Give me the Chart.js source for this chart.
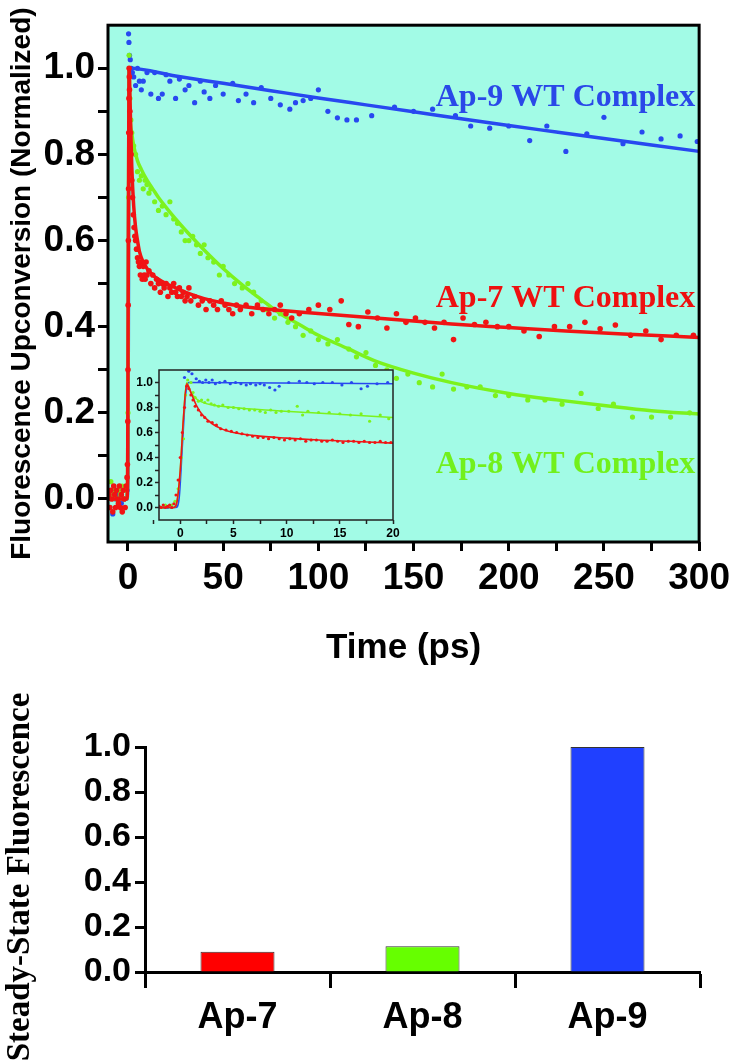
<!DOCTYPE html>
<html lang="en">
<head>
<meta charset="UTF-8">
<title>Ap WT complexes - fluorescence</title>
<style>
  body { margin: 0; background: #fff; }
  #wrap { position: relative; width: 736px; height: 1063px; overflow: hidden; }
  #main { position: absolute; left: 0; top: 0; }
  #inset { position: absolute; left: 110px; top: 360px; }
  #bars { position: absolute; left: 0; top: 680px; }
</style>
<script src="https://cdn.jsdelivr.net/npm/chart.js@4.4.1/dist/chart.umd.min.js"></script>
</head>
<body>
<div id="wrap">
  <canvas id="main" width="736" height="680"></canvas>
  <canvas id="inset" width="300" height="190"></canvas>
  <canvas id="bars" width="736" height="383"></canvas>
</div>
<script>
// ---- main panel: measured points (time in ps, normalized signal) ----
const ap9T = [-9,-8,-6.5,-5,-3.5,-2,-0.5,0.3,0.5,0.8,1.2,1.7,2.3,3,4,5,6,7,8,10,12,14,16,18,20,22,25,27,30,32,35,38,40,43,46,50,55,58,62,66,70,75,80,85,88,92,96,100,105,110,115,120,128,140,150,160,172,180,190,200,211,220,230,241,250,260,270,280,290,299];
const ap9V = [0.01,-0.035,0.0,0.01,-0.01,0.0,0.02,1.08,1.06,1.03,1.02,1.0,0.99,0.98,0.96,1.0,0.97,0.95,0.97,0.99,0.94,0.99,0.93,0.94,0.985,0.97,0.93,0.975,0.95,0.96,0.92,0.97,0.945,0.93,0.96,0.94,0.965,0.925,0.94,0.92,0.955,0.93,0.915,0.905,0.92,0.925,0.93,0.95,0.90,0.885,0.88,0.88,0.89,0.91,0.9,0.905,0.89,0.866,0.861,0.866,0.832,0.866,0.807,0.848,0.886,0.825,0.852,0.836,0.843,0.83];

const ap7T = [-10,-9.5,-9,-8.5,-8,-7.5,-7,-6.5,-6,-5.5,-5,-4.5,-4,-3.5,-3,-2.5,-2,-1.5,-1,-0.5,
  -0.3,-0.1,0,0.1,0.2,0.3,0.4,0.5,0.6,0.7,0.8,1,1.3,1.6,
  2,2.4,2.8,3.2,3.6,4,4.5,5,5.5,6,6.5,7,7.5,8,8.5,9,9.5,10,11,12,13,14,15,16,17,18,19,20,21,22,23,24,25,26,27,28,29,30,31,32,33,35,37,39,41,43,45,47,49,51,53,55,57,59,62,65,68,71,74,77,80,83,86,90,95,100,106,112,116,121,126,131,136,141,146,151,156,161,166,171,176,182,188,194,200,208,216,224,232,240,248,256,264,272,280,288,297];
const ap7V = [0.01,-0.02,0.02,0.0,-0.03,0.03,0.01,-0.02,0.02,0.0,-0.01,0.03,-0.02,0.01,-0.03,0.02,0.0,-0.02,0.03,0.05,
  0.08,0.18,0.3,0.45,0.6,0.72,0.85,0.93,1.0,0.98,0.95,0.9,0.85,0.8,
  0.74,0.7,0.66,0.63,0.61,0.6,0.58,0.56,0.55,0.54,0.52,0.55,0.51,0.54,0.52,0.51,0.55,0.52,
  0.53,0.5,0.52,0.49,0.51,0.5,0.48,0.5,0.49,0.5,0.47,0.49,0.48,0.5,0.48,0.47,0.49,0.47,0.48,0.46,0.47,0.49,0.46,
  0.47,0.45,0.46,0.44,0.46,0.45,0.44,0.46,0.45,0.44,0.43,0.45,0.44,
  0.45,0.43,0.45,0.44,0.43,0.44,0.45,0.43,0.42,0.43,
  0.44,0.45,0.44,0.46,0.405,0.40,0.434,0.42,0.397,0.43,0.41,
  0.42,0.41,0.397,0.41,0.37,0.42,0.405,0.41,0.40,0.40,
  0.39,0.377,0.40,0.40,0.41,0.395,0.404,0.38,0.39,0.37,0.38,0.38];

const ap8T = [-9,-8,-7,-6,-5,-4,-3,-2,-1,0,0.3,0.6,1,1.5,2,3,4,5,6,7,8,9,10,11,12,14,16,18,20,22,24,26,28,30,32,34,36,38,40,42,45,48,50,53,56,60,63,66,70,73,77,80,84,88,92,96,100,105,110,116,120,125,130,136,141,147,153,160,165,171,178,185,193,200,210,219,228,238,247,255,265,275,285,295];
const ap8V = [0.04,0.01,0.02,0.0,0.02,0.01,0.03,0.0,0.02,0.2,0.7,1.03,0.93,0.88,0.85,
  0.82,0.8,0.76,0.74,0.75,0.72,0.74,0.73,0.71,0.72,
  0.69,0.67,0.68,0.66,0.69,0.65,0.64,0.62,0.6,0.6,
  0.61,0.59,0.57,0.59,0.56,0.55,0.52,0.54,0.52,0.5,
  0.49,0.5,0.48,0.46,0.44,0.42,0.43,0.41,0.4,0.38,
  0.39,0.37,0.36,0.37,0.348,0.33,0.34,0.31,0.3,0.28,
  0.29,0.27,0.26,0.29,0.255,0.26,0.26,0.24,0.24,0.23,
  0.23,0.22,0.245,0.21,0.22,0.19,0.19,0.19,0.2];

// fitted curves
const ap9FitT = [-10,-0.5,0,0.3,0.6,25,50,75,100,125,150,175,200,225,250,275,300];
const ap9FitV = [0,0,0.1,0.6,1.0,0.982,0.965,0.948,0.931,0.915,0.899,0.883,0.867,0.852,0.837,0.822,0.807];
const ap7FitT = [-10,-0.6,-0.2,0,0.2,0.4,0.6,1,1.5,2,3,4,5,6,8,10,13,16,20,25,30,40,50,60,75,90,110,130,150,170,200,230,260,300];
const ap7FitV = [0,0,0.05,0.3,0.6,0.86,1.0,0.94,0.85,0.77,0.68,0.63,0.6,0.575,0.55,0.535,0.52,0.51,0.5,0.49,0.48,0.465,0.455,0.447,0.44,0.434,0.427,0.42,0.413,0.406,0.398,0.39,0.383,0.375];
const ap8FitT = [-10,-0.6,-0.2,0,0.3,0.6,1,2,3,5,7,10,13,16,20,25,30,40,50,60,70,80,90,100,115,130,150,170,200,225,250,275,300];
const ap8FitV = [0,0,0.05,0.25,0.7,1.0,0.9,0.85,0.82,0.785,0.765,0.74,0.72,0.7,0.677,0.65,0.625,0.578,0.535,0.497,0.463,0.43,0.405,0.38,0.35,0.32,0.292,0.27,0.245,0.23,0.217,0.205,0.197];

const timeTicks = [0,25,50,75,100,125,150,175,200,225,250,275,300];
const timeLabels = [0,50,100,150,200,250,300];
const signalTicks = [0,0.1,0.2,0.3,0.4,0.5,0.6,0.7,0.8,0.9,1.0];
const signalLabels = [0,0.2,0.4,0.6,0.8,1.0];

// ---- inset: first 20 ps ----
const inBlueT = [-2,-1.6,-1.2,-0.8,-0.4,0.4,0.8,1.1,1.5,1.8,2.1,2.4,2.7,3.0,3.3,3.7,4.2,4.7,5.2,5.7,6.2,6.6,7.1,7.5,7.9,8.4,8.9,9.3,10.2,11.2,11.9,12.6,13.4,14.3,15.2,16.1,17.0,17.6,18.5,19.5];
const inBlueV = [0,0,0,0,0.01,1.04,1.09,1.07,1.03,1.01,1.0,1.02,1.0,1.02,0.99,1.0,1.01,0.99,1.0,0.99,0.98,0.99,0.98,0.99,0.98,0.96,0.94,0.97,1.0,1.01,1.0,0.99,1.0,1.0,0.98,1.0,0.95,0.97,0.99,1.0];
const inGreenT = [-2,-1.7,-1.4,-1.1,-0.8,-0.5,-0.2,0.1,0.3,0.5,0.7,1.0,1.2,1.4,1.7,2.0,2.3,2.6,2.9,3.2,3.6,4.0,4.5,5.0,5.5,6.0,6.5,7.0,7.5,8.0,8.5,9.0,9.5,10.2,11.0,11.5,12.0,13.0,14.0,15.0,16.0,17.0,17.8,18.8,19.6];
const inGreenV = [0.01,0.0,0.02,0.01,0.02,0.05,0.15,0.4,0.55,0.9,1.02,1.0,0.92,0.88,0.85,0.86,0.84,0.86,0.83,0.82,0.81,0.82,0.8,0.8,0.79,0.79,0.78,0.78,0.77,0.76,0.78,0.76,0.77,0.77,0.81,0.74,0.77,0.76,0.76,0.75,0.74,0.75,0.69,0.74,0.71];
const inRedT = [-2,-1.8,-1.6,-1.4,-1.2,-1.0,-0.8,-0.6,-0.4,-0.2,0,0.2,0.4,0.6,0.8,1.0,1.2,1.4,1.7,2.0,2.3,2.6,3.0,3.4,3.8,4.3,4.8,5.3,5.8,6.3,6.8,7.3,7.8,8.3,8.8,9.3,9.8,10.3,10.8,11.3,11.8,12.3,12.8,13.3,13.8,14.3,14.8,15.3,15.8,16.3,16.8,17.3,17.8,18.3,18.8,19.3,19.8];
const inRedV = [0.01,0.0,0.02,0.0,0.01,0.02,0.0,0.03,0.1,0.22,0.4,0.6,0.8,0.97,0.95,0.9,0.86,0.81,0.78,0.74,0.72,0.69,0.68,0.66,0.63,0.62,0.61,0.6,0.59,0.58,0.57,0.56,0.56,0.55,0.56,0.55,0.54,0.55,0.54,0.55,0.53,0.54,0.54,0.53,0.53,0.54,0.53,0.52,0.53,0.53,0.52,0.53,0.52,0.52,0.53,0.52,0.52];
const inRedFitT = [-2,-0.6,-0.3,0,0.3,0.6,1,1.5,2,3,4,5,7,10,13,16,20];
const inRedFitV = [0,0,0.05,0.3,0.72,0.99,0.92,0.82,0.75,0.67,0.625,0.6,0.575,0.555,0.54,0.53,0.515];
const inGreenFitT = [-2,-0.6,-0.3,0,0.3,0.6,1,1.5,2,3,5,8,12,16,20];
const inGreenFitV = [0,0,0.05,0.3,0.72,1.0,0.92,0.87,0.845,0.82,0.8,0.78,0.76,0.74,0.72];
const inBlueFitT = [-2,-0.4,-0.1,0.2,0.5,0.8,20];
const inBlueFitV = [0,0,0.08,0.5,0.9,1.0,0.99];
const insetTimeTicks = [-2.5,0,2.5,5,7.5,10,12.5,15,17.5,20];
const insetTimeLabels = [0,5,10,15,20];

// ---- steady-state bar panel ----
const barLabels = ['Ap-7', 'Ap-8', 'Ap-9'];
const barValues = [0.09, 0.115, 1.0];
const barTicks = [0,0.2,0.4,0.6,0.8,1.0];

const SANS = '"Liberation Sans", Arial, sans-serif';
const SERIF = '"Liberation Serif", "Times New Roman", serif';
const BG = '#a2fbe6';
const BLUE = '#2848f0', RED = '#f01414', GREEN = '#7cf21e';

Chart.defaults.color = '#000';
Chart.defaults.font.family = SANS;

const pairs = (t, v) => t.map((x, i) => ({ x: x, y: v[i] }));
const inList = (list, v) => list.some(a => Math.abs(a - v) < 1e-6);

function pts(t, v, color, r, order) {
  return { data: pairs(t, v), backgroundColor: color, borderWidth: 0, pointRadius: r, order: order };
}
function fit(t, v, color, w, order) {
  return { data: pairs(t, v), showLine: true, borderColor: color, borderWidth: w, pointRadius: 0,
    cubicInterpolationMode: 'monotone', order: order };
}

// cyan plot background and closed frame
function framePlugin(lw, color) {
  return {
    id: 'frame',
    beforeDatasetsDraw(chart) {
      const a = chart.chartArea, ctx = chart.ctx;
      ctx.save();
      ctx.fillStyle = BG;
      ctx.fillRect(a.left, a.top, a.right - a.left, a.bottom - a.top);
      ctx.restore();
    },
    afterDatasetsDraw(chart) {
      const a = chart.chartArea, ctx = chart.ctx;
      ctx.save();
      ctx.lineWidth = lw;
      ctx.strokeStyle = color;
      ctx.strokeRect(a.left, a.top, a.right - a.left, a.bottom - a.top);
      ctx.restore();
    }
  };
}

const labelPlugin = {
  id: 'seriesLabels',
  afterDatasetsDraw(chart) {
    const ctx = chart.ctx, x = chart.scales.x, y = chart.scales.y;
    ctx.save();
    ctx.font = 'bold 32px ' + SERIF;
    ctx.textAlign = 'right';
    ctx.textBaseline = 'alphabetic';
    ctx.fillStyle = '#2a48e8';
    ctx.fillText('Ap-9 WT Complex', x.getPixelForValue(298), y.getPixelForValue(0.912));
    ctx.fillStyle = '#ee1010';
    ctx.fillText('Ap-7 WT Complex', x.getPixelForValue(298), y.getPixelForValue(0.445));
    ctx.fillStyle = '#72f01c';
    ctx.fillText('Ap-8 WT Complex', x.getPixelForValue(298), y.getPixelForValue(0.06));
    ctx.restore();
  }
};

// rotated serif title of the bar panel, placed by hand like the original figure
const barTitlePlugin = {
  id: 'barTitle',
  afterDraw(chart) {
    const ctx = chart.ctx;
    ctx.save();
    ctx.translate(20, 197);
    ctx.rotate(-Math.PI / 2);
    ctx.font = 'bold 33px ' + SERIF;
    ctx.textAlign = 'center';
    ctx.textBaseline = 'middle';
    ctx.fillStyle = '#000';
    ctx.fillText('Steady-State Fluorescence', 0, 0);
    ctx.restore();
  }
};

new Chart(document.getElementById('main'), {
  type: 'scatter',
  data: {
    datasets: [
      pts(ap9T, ap9V, BLUE, 2.6, 6),
      fit(ap9FitT, ap9FitV, BLUE, 3.5, 5),
      pts(ap8T, ap8V, GREEN, 2.6, 4),
      fit(ap8FitT, ap8FitV, GREEN, 3.5, 3),
      pts(ap7T, ap7V, RED, 2.8, 2),
      fit(ap7FitT, ap7FitV, RED, 3.5, 1)
    ]
  },
  options: {
    responsive: false,
    animation: false,
    devicePixelRatio: 1,
    layout: { padding: { top: 15, right: 36, left: 0, bottom: 0 } },
    plugins: { legend: { display: false }, tooltip: { enabled: false } },
    scales: {
      x: {
        type: 'linear', min: -10.5, max: 300,
        afterBuildTicks: s => { s.ticks = timeTicks.map(v => ({ value: v })); },
        afterFit: s => { s.height = 138; },
        ticks: {
          autoSkip: false, maxRotation: 0, padding: 6,
          font: { size: 37, weight: 'bold' },
          callback: v => inList(timeLabels, v) ? String(v) : ''
        },
        grid: { display: true, drawOnChartArea: false, drawTicks: true, tickLength: 9, tickWidth: 3, tickColor: '#000' },
        border: { display: false },
        title: { display: true, text: 'Time (ps)', font: { size: 35, weight: 'bold' }, padding: { top: 0, bottom: 11 } }
      },
      y: {
        min: -0.1, max: 1.1,
        afterBuildTicks: s => { s.ticks = signalTicks.map(v => ({ value: v })); },
        afterFit: s => { s.width = 108; },
        ticks: {
          autoSkip: false, padding: 3,
          font: { size: 37, weight: 'bold' },
          callback: v => inList(signalLabels, v) ? v.toFixed(1) : ''
        },
        grid: { display: true, drawOnChartArea: false, drawTicks: true, tickLength: 10, tickWidth: 3, tickColor: '#000' },
        border: { display: false },
        title: { display: true, text: 'Fluorescence Upconversion (Normalized)', font: { size: 28, weight: 'bold' }, padding: { top: 5, bottom: 0 } }
      }
    }
  },
  plugins: [framePlugin(3, '#000'), labelPlugin]
});

new Chart(document.getElementById('inset'), {
  type: 'scatter',
  data: {
    datasets: [
      pts(inBlueT, inBlueV, BLUE, 1.6, 6),
      fit(inBlueFitT, inBlueFitV, BLUE, 1.6, 5),
      pts(inGreenT, inGreenV, GREEN, 1.6, 4),
      fit(inGreenFitT, inGreenFitV, GREEN, 1.6, 3),
      pts(inRedT, inRedV, RED, 1.6, 2),
      fit(inRedFitT, inRedFitV, RED, 1.6, 1)
    ]
  },
  options: {
    responsive: false,
    animation: false,
    devicePixelRatio: 1,
    layout: { padding: { top: 10, right: 17, left: 0, bottom: 0 } },
    plugins: { legend: { display: false }, tooltip: { enabled: false } },
    scales: {
      x: {
        type: 'linear', min: -2, max: 20,
        afterBuildTicks: s => { s.ticks = insetTimeTicks.map(v => ({ value: v })); },
        afterFit: s => { s.height = 30; },
        ticks: {
          autoSkip: false, maxRotation: 0, padding: 2,
          font: { size: 12, weight: 'bold' },
          callback: v => inList(insetTimeLabels, v) ? String(v) : ''
        },
        grid: { display: true, drawOnChartArea: false, drawTicks: true, tickLength: 4, tickWidth: 1.5, tickColor: '#222' },
        border: { display: false }
      },
      y: {
        min: -0.1, max: 1.1,
        afterBuildTicks: s => { s.ticks = signalTicks.map(v => ({ value: v })); },
        afterFit: s => { s.width = 49; },
        ticks: {
          autoSkip: false, padding: 2,
          font: { size: 12, weight: 'bold' },
          callback: v => inList(signalLabels, v) ? v.toFixed(1) : ''
        },
        grid: { display: true, drawOnChartArea: false, drawTicks: true, tickLength: 4, tickWidth: 1.5, tickColor: '#222' },
        border: { display: false }
      }
    }
  },
  plugins: [framePlugin(1.5, '#222')]
});

new Chart(document.getElementById('bars'), {
  type: 'bar',
  data: {
    labels: barLabels,
    datasets: [{
      data: barValues,
      backgroundColor: ['#ff0000', '#66ff00', '#2040ff'],
      borderColor: '#333',
      borderWidth: 1,
      barPercentage: 0.4,
      categoryPercentage: 1.0
    }]
  },
  options: {
    responsive: false,
    animation: false,
    devicePixelRatio: 1,
    layout: { padding: { top: 67, right: 36, left: 0, bottom: 0 } },
    plugins: { legend: { display: false }, tooltip: { enabled: false } },
    scales: {
      x: {
        afterFit: s => { s.height = 91; },
        ticks: { padding: 8, font: { size: 36, weight: 'bold' } },
        grid: { display: true, offset: true, drawOnChartArea: false, drawTicks: true, tickLength: 16, tickWidth: 3, tickColor: '#000' },
        border: { display: true, width: 3, color: '#000' }
      },
      y: {
        min: 0, max: 1.0,
        afterBuildTicks: s => { s.ticks = barTicks.map(v => ({ value: v })); },
        afterFit: s => { s.width = 145; },
        ticks: { autoSkip: false, padding: 4, font: { size: 34, weight: 'bold' }, callback: v => v.toFixed(1) },
        grid: { display: true, drawOnChartArea: false, drawTicks: true, tickLength: 10, tickWidth: 3, tickColor: '#000' },
        border: { display: true, width: 3, color: '#000' }
      }
    }
  },
  plugins: [barTitlePlugin]
});
</script>
</body>
</html>
